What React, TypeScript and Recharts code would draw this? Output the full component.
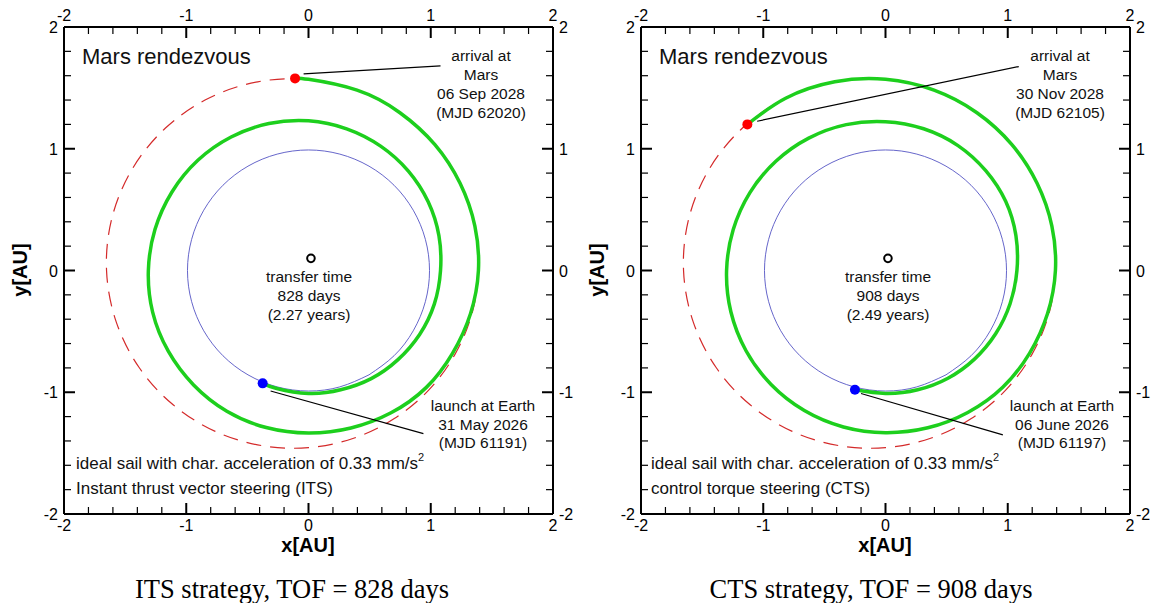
import React from 'react';
import { ComposedChart, Line, Scatter, XAxis, YAxis, ReferenceLine } from 'recharts';

// axis ticks (AU), majors at integers
const axisTicks = [-2, -1.8, -1.6, -1.4, -1.2, -1, -0.8, -0.6, -0.4, -0.2, 0, 0.2, 0.4, 0.6, 0.8, 1, 1.2, 1.4, 1.6, 1.8, 2];

// Earth orbit (thin blue)
const earthOrbit = [
  { x: 0.495, y: -0.857 }, { x: 0.7, y: -0.7 }, { x: 0.857, y: -0.495 }, { x: 0.956, y: -0.256 },
  { x: 0.99, y: 0 }, { x: 0.956, y: 0.256 }, { x: 0.857, y: 0.495 }, { x: 0.7, y: 0.7 },
  { x: 0.495, y: 0.857 }, { x: 0.256, y: 0.956 }, { x: 0, y: 0.99 }, { x: -0.256, y: 0.956 },
  { x: -0.495, y: 0.857 }, { x: -0.7, y: 0.7 }, { x: -0.857, y: 0.495 }, { x: -0.956, y: 0.256 },
  { x: -0.99, y: 0 }, { x: -0.956, y: -0.256 }, { x: -0.857, y: -0.495 }, { x: -0.7, y: -0.7 },
  { x: -0.495, y: -0.857 }, { x: -0.256, y: -0.956 }, { x: 0, y: -0.99 }, { x: 0.256, y: -0.956 },
  { x: 0.495, y: -0.857 },
];

// Mars orbit (red dashed), starts/ends under the green arc
const marsOrbit = [
  { x: 1.24, y: 0.716 }, { x: 1.034, y: 1.034 }, { x: 0.748, y: 1.296 }, { x: 0.397, y: 1.481 },
  { x: 0, y: 1.57 }, { x: -0.415, y: 1.55 }, { x: -0.817, y: 1.415 }, { x: -1.17, y: 1.17 },
  { x: -1.442, y: 0.833 }, { x: -1.608, y: 0.431 }, { x: -1.652, y: 0 }, { x: -1.573, y: -0.422 },
  { x: -1.384, y: -0.799 }, { x: -1.105, y: -1.105 }, { x: -0.763, y: -1.321 }, { x: -0.385, y: -1.438 },
  { x: 0, y: -1.455 }, { x: 0.369, y: -1.378 }, { x: 0.702, y: -1.216 }, { x: 0.983, y: -0.983 },
  { x: 1.197, y: -0.691 }, { x: 1.336, y: -0.358 }, { x: 1.392, y: 0 }, { x: 1.361, y: 0.365 },
  { x: 1.24, y: 0.716 },
];

// ITS transfer trajectory
const itsTrajectory = [
  { x: -0.375, y: -0.927 }, { x: -0.26, y: -0.969 }, { x: 0, y: -1.01 }, { x: 0.263, y: -0.98 },
  { x: 0.513, y: -0.888 }, { x: 0.732, y: -0.732 }, { x: 0.909, y: -0.525 }, { x: 1.029, y: -0.276 },
  { x: 1.08, y: 0 }, { x: 1.067, y: 0.286 }, { x: 0.979, y: 0.565 }, { x: 0.817, y: 0.817 },
  { x: 0.59, y: 1.022 }, { x: 0.312, y: 1.164 }, { x: 0, y: 1.23 }, { x: -0.324, y: 1.207 },
  { x: -0.633, y: 1.096 }, { x: -0.905, y: 0.905 }, { x: -1.117, y: 0.645 }, { x: -1.256, y: 0.336 },
  { x: -1.31, y: 0 }, { x: -1.275, y: -0.342 }, { x: -1.147, y: -0.663 }, { x: -0.94, y: -0.94 },
  { x: -0.668, y: -1.156 }, { x: -0.346, y: -1.29 }, { x: 0, y: -1.335 }, { x: 0.347, y: -1.294 },
  { x: 0.675, y: -1.169 }, { x: 0.962, y: -0.962 }, { x: 1.178, y: -0.68 }, { x: 1.325, y: -0.355 },
  { x: 1.39, y: 0 }, { x: 1.361, y: 0.365 }, { x: 1.24, y: 0.716 }, { x: 1.034, y: 1.034 },
  { x: 0.748, y: 1.296 }, { x: 0.397, y: 1.481 }, { x: 0, y: 1.57 }, { x: -0.11, y: 1.578 },
];

// CTS transfer trajectory
const ctsTrajectory = [
  { x: -0.25, y: -0.98 }, { x: 0, y: -1.01 }, { x: 0.263, y: -0.98 }, { x: 0.511, y: -0.885 },
  { x: 0.728, y: -0.728 }, { x: 0.901, y: -0.52 }, { x: 1.019, y: -0.273 }, { x: 1.075, y: 0 },
  { x: 1.067, y: 0.286 }, { x: 0.983, y: 0.568 }, { x: 0.82, y: 0.82 }, { x: 0.593, y: 1.026 },
  { x: 0.312, y: 1.164 }, { x: 0, y: 1.222 }, { x: -0.321, y: 1.198 }, { x: -0.628, y: 1.087 },
  { x: -0.897, y: 0.897 }, { x: -1.109, y: 0.64 }, { x: -1.246, y: 0.334 }, { x: -1.3, y: 0 },
  { x: -1.265, y: -0.339 }, { x: -1.141, y: -0.659 }, { x: -0.936, y: -0.936 }, { x: -0.664, y: -1.15 },
  { x: -0.344, y: -1.285 }, { x: 0, y: -1.332 }, { x: 0.346, y: -1.292 }, { x: 0.673, y: -1.166 },
  { x: 0.959, y: -0.959 }, { x: 1.178, y: -0.68 }, { x: 1.325, y: -0.355 }, { x: 1.39, y: 0 },
  { x: 1.361, y: 0.365 }, { x: 1.24, y: 0.716 }, { x: 1.034, y: 1.034 }, { x: 0.748, y: 1.296 },
  { x: 0.397, y: 1.481 }, { x: 0, y: 1.57 }, { x: -0.415, y: 1.55 }, { x: -0.817, y: 1.415 },
  { x: -1.13, y: 1.2 },
];

const sunPos = [{ x: 0.02, y: 0.1 }];
const itsLaunch = [{ x: -0.375, y: -0.927 }];
const itsArrival = [{ x: -0.11, y: 1.578 }];
const ctsLaunch = [{ x: -0.25, y: -0.98 }];
const ctsArrival = [{ x: -1.13, y: 1.2 }];

// leader lines [from, to]
const itsArrivalLeader = [{ x: -0.04, y: 1.615 }, { x: 1.08, y: 1.68 }];
const itsLaunchLeader = [{ x: -0.31, y: -0.99 }, { x: 0.94, y: -1.34 }];
const ctsArrivalLeader = [{ x: -1.05, y: 1.226 }, { x: 1.09, y: 1.675 }];
const ctsLaunchLeader = [{ x: -0.2, y: -1.01 }, { x: 0.96, y: -1.35 }];

const itsArrivalText = ['arrival at', 'Mars', '06 Sep 2028', '(MJD 62020)'];
const itsLaunchText = ['launch at Earth', '31 May 2026', '(MJD 61191)'];
const itsTransferText = ['transfer time', '828 days', '(2.27 years)'];
const ctsArrivalText = ['arrival at', 'Mars', '30 Nov 2028', '(MJD 62105)'];
const ctsLaunchText = ['launch at Earth', '06 June 2026', '(MJD 61197)'];
const ctsTransferText = ['transfer time', '908 days', '(2.49 years)'];

const SANS = '"Liberation Sans", Arial, sans-serif';
const GREEN = '#1dcf1d';

const isMajor = (v: number) => Math.abs(v - Math.round(v)) < 1e-6;
const fmt = (v: number) => String(Math.round(v));

const BottomTick = (p: any) => {
  const major = isMajor(p.payload.value);
  return (
    <g>
      <line x1={p.x} y1={p.y} x2={p.x} y2={p.y - (major ? 11 : 7)} stroke="#000" strokeWidth={major ? 2 : 1.2} />
      {major && <text x={p.x} y={p.y + 17} textAnchor="middle" fontSize={16} fontFamily={SANS} fill="#000">{fmt(p.payload.value)}</text>}
    </g>
  );
};
const TopTick = (p: any) => {
  const major = isMajor(p.payload.value);
  return (
    <g>
      <line x1={p.x} y1={p.y} x2={p.x} y2={p.y + (major ? 11 : 7)} stroke="#000" strokeWidth={major ? 2 : 1.2} />
      {major && <text x={p.x} y={p.y - 6} textAnchor="middle" fontSize={16} fontFamily={SANS} fill="#000">{fmt(p.payload.value)}</text>}
    </g>
  );
};
const LeftTick = (p: any) => {
  const major = isMajor(p.payload.value);
  return (
    <g>
      <line x1={p.x} y1={p.y} x2={p.x + (major ? 11 : 7)} y2={p.y} stroke="#000" strokeWidth={major ? 2 : 1.2} />
      {major && <text x={p.x - 6} y={p.y + 6} textAnchor="end" fontSize={16} fontFamily={SANS} fill="#000">{fmt(p.payload.value)}</text>}
    </g>
  );
};
const RightTick = (p: any) => {
  const major = isMajor(p.payload.value);
  return (
    <g>
      <line x1={p.x} y1={p.y} x2={p.x - (major ? 11 : 7)} y2={p.y} stroke="#000" strokeWidth={major ? 2 : 1.2} />
      {major && <text x={p.x + 6} y={p.y + 6} textAnchor="start" fontSize={16} fontFamily={SANS} fill="#000">{fmt(p.payload.value)}</text>}
    </g>
  );
};

const dotShape = (fill: string) => (p: any) => <circle cx={p.cx} cy={p.cy} r={5} fill={fill} stroke="none" />;
const sunShape = (p: any) => <circle cx={p.cx} cy={p.cy} r={3.8} fill="#fff" stroke="#000" strokeWidth={2} />;

const Block = ({ x, y, lines, lh = 19, size = 15.5 }: { x: number; y: number; lines: string[]; lh?: number; size?: number }) => (
  <div style={{ position: 'absolute', left: x, top: y, transform: 'translate(-50%, -50%)', textAlign: 'center', whiteSpace: 'nowrap', fontFamily: SANS, fontSize: size, lineHeight: `${lh}px`, color: '#111' }}>
    {lines.map((l) => <div key={l}>{l}</div>)}
  </div>
);

const Left = ({ x, y, children, size = 17, style }: any) => (
  <div style={{ position: 'absolute', left: x, top: y, transform: 'translate(0, -50%)', whiteSpace: 'nowrap', fontFamily: SANS, fontSize: size, color: '#111', ...style }}>
    {children}
  </div>
);

const axisLine = { stroke: '#000', strokeWidth: 2 };

interface PanelProps {
  left: number;
  trajectory: { x: number; y: number }[];
  launch: { x: number; y: number }[];
  arrival: { x: number; y: number }[];
  arrivalLeader: { x: number; y: number }[];
  launchLeader: { x: number; y: number }[];
  arrivalText: string[];
  launchText: string[];
  transferText: string[];
  steering: string;
  caption: string;
  tx: number; // text x shift
  cx: number; // caption centre
}

const Panel = (p: PanelProps) => (
  <div style={{ position: 'absolute', left: p.left, top: 0, width: 575, height: 603 }}>
    <ComposedChart width={575} height={560} margin={{ top: 0, right: 0, bottom: 0, left: 0 }}>
      <XAxis xAxisId={0} type="number" dataKey="x" domain={[-2, 2]} ticks={axisTicks} interval={0} allowDataOverflow
        height={46} tickSize={0} tickMargin={0} tickLine={false} axisLine={axisLine} tick={BottomTick} />
      <XAxis xAxisId="top" orientation="top" type="number" dataKey="x" domain={[-2, 2]} ticks={axisTicks} interval={0} allowDataOverflow
        height={27} tickSize={0} tickMargin={0} tickLine={false} axisLine={axisLine} tick={TopTick} />
      <YAxis yAxisId={0} type="number" dataKey="y" domain={[-2, 2]} ticks={axisTicks} interval={0} allowDataOverflow
        width={64} tickSize={0} tickMargin={0} tickLine={false} axisLine={axisLine} tick={LeftTick} />
      <YAxis yAxisId="right" orientation="right" type="number" dataKey="y" domain={[-2, 2]} ticks={axisTicks} interval={0} allowDataOverflow
        width={22} tickSize={0} tickMargin={0} tickLine={false} axisLine={axisLine} tick={RightTick} />
      <Line data={marsOrbit} dataKey="y" type="natural" stroke="#d42a2a" strokeWidth={1.2} strokeDasharray="15 9"
        dot={false} activeDot={false} isAnimationActive={false} />
      <Line data={earthOrbit} dataKey="y" type="natural" stroke="#5555c4" strokeWidth={0.9}
        dot={false} activeDot={false} isAnimationActive={false} />
      <Line data={p.trajectory} dataKey="y" type="natural" stroke={GREEN} strokeWidth={3.5}
        dot={false} activeDot={false} isAnimationActive={false} />
      <ReferenceLine segment={p.arrivalLeader} stroke="#000" strokeWidth={1.2} />
      <ReferenceLine segment={p.launchLeader} stroke="#000" strokeWidth={1.2} />
      <Scatter data={sunPos} dataKey="y" shape={sunShape} isAnimationActive={false} />
      <Scatter data={p.launch} dataKey="y" shape={dotShape('#0000ff')} isAnimationActive={false} />
      <Scatter data={p.arrival} dataKey="y" shape={dotShape('#ff0000')} isAnimationActive={false} />
    </ComposedChart>

    <Left x={82} y={57} size={22}>Mars rendezvous</Left>
    <Block x={481 + p.tx} y={84} lines={p.arrivalText} />
    <Block x={309 + p.tx} y={295} lines={p.transferText} />
    <Block x={483 + p.tx} y={425} lines={p.launchText} lh={18.5} />
    <Left x={76 - p.tx} y={464}>ideal sail with char. acceleration of 0.33 mm/s<sup style={{ fontSize: 11, verticalAlign: 'top', position: 'relative', top: -3 }}>2</sup></Left>
    <Left x={76 - p.tx} y={489}>{p.steering}</Left>

    <div style={{ position: 'absolute', left: 308, top: 545, transform: 'translate(-50%, -50%)', fontFamily: SANS, fontWeight: 'bold', fontSize: 20, whiteSpace: 'nowrap' }}>x[AU]</div>
    <div style={{ position: 'absolute', left: 20, top: 270, transform: 'translate(-50%, -50%) rotate(-90deg)', fontFamily: SANS, fontWeight: 'bold', fontSize: 20, whiteSpace: 'nowrap' }}>y[AU]</div>
    <div style={{ position: 'absolute', left: p.cx, top: 589, transform: 'translate(-50%, -50%)', fontFamily: '"Liberation Serif", "Times New Roman", serif', fontSize: 26.5, whiteSpace: 'nowrap' }}>{p.caption}</div>
  </div>
);

export default function App() {
  return (
    <div style={{ position: 'absolute', left: 0, top: 0, width: 1151, height: 603, background: '#fff', overflow: 'hidden' }}>
      <Panel left={0} trajectory={itsTrajectory} launch={itsLaunch} arrival={itsArrival}
        arrivalLeader={itsArrivalLeader} launchLeader={itsLaunchLeader}
        arrivalText={itsArrivalText} launchText={itsLaunchText} transferText={itsTransferText}
        steering="Instant thrust vector steering (ITS)" caption="ITS strategy, TOF = 828 days" tx={0} cx={292} />
      <Panel left={577} trajectory={ctsTrajectory} launch={ctsLaunch} arrival={ctsArrival}
        arrivalLeader={ctsArrivalLeader} launchLeader={ctsLaunchLeader}
        arrivalText={ctsArrivalText} launchText={ctsLaunchText} transferText={ctsTransferText}
        steering="control torque steering (CTS)" caption="CTS strategy, TOF = 908 days" tx={2} cx={294} />
    </div>
  );
}
